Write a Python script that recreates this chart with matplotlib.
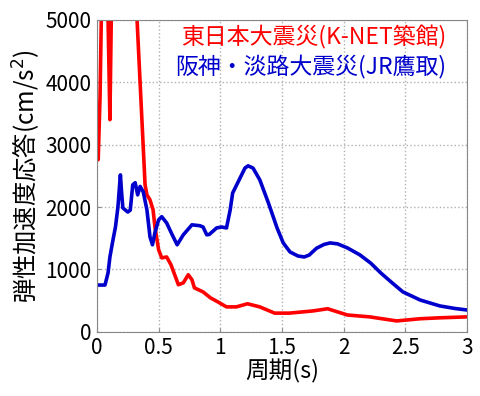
import numpy as np
import matplotlib.pyplot as plt

plt.rcParams['font.family'] = ['Noto Sans CJK JP', 'DejaVu Sans']

# 東日本大震災 (K-NET築館)
period_red = [0.0, 0.01, 0.025, 0.04, 0.07, 0.09, 0.105, 0.12, 0.30,
              0.325, 0.39, 0.405, 0.43, 0.455, 0.47, 0.50, 0.525, 0.565,
              0.60, 0.63, 0.66, 0.70, 0.74, 0.77, 0.79, 0.86, 0.92, 0.98, 1.05, 1.13,
              1.22, 1.32, 1.44, 1.56, 1.75, 1.87, 2.03, 2.21, 2.43, 2.62, 2.78, 3.0]
accel_red = [2750, 2760, 3770, 5600, 5600, 5000, 3400, 5600, 5600,
             5000, 2355, 2195, 2115, 1955, 1680, 1315, 1185, 1200,
             1075, 915, 755, 785, 915, 835, 705, 640, 545, 480, 400, 400,
             450, 400, 300, 300, 335, 370, 270, 240, 175, 210, 225, 240]

# 阪神・淡路大震災 (JR鷹取)
period_blue = [0.0, 0.065, 0.09, 0.105, 0.13, 0.15, 0.17, 0.19, 0.20, 0.21, 0.25,
               0.27, 0.29, 0.31, 0.33, 0.35, 0.375, 0.405, 0.43, 0.45, 0.47, 0.50,
               0.525, 0.565, 0.61, 0.65, 0.70, 0.77, 0.835, 0.86, 0.89, 0.91, 0.97,
               1.01, 1.05, 1.08, 1.10, 1.16, 1.20, 1.225, 1.265, 1.32, 1.39, 1.46,
               1.51, 1.565, 1.63, 1.68, 1.72, 1.78, 1.84, 1.89, 1.95, 2.03,
               2.13, 2.22, 2.30, 2.39, 2.48, 2.62, 2.78, 2.9, 3.0]
accel_blue = [750, 750, 945, 1200, 1475, 1680, 2000, 2515, 2225, 1985, 1920,
              1950, 2355, 2390, 2195, 2330, 2245, 1955, 1520, 1395, 1590, 1795,
              1845, 1745, 1555, 1395, 1555, 1715, 1700, 1680, 1555, 1560, 1665,
              1680, 1665, 1955, 2225, 2465, 2625, 2660, 2625, 2435, 2065, 1665,
              1425, 1280, 1215, 1200, 1230, 1340, 1400, 1425, 1410, 1345,
              1235, 1100, 945, 790, 640, 510, 415, 375, 350]

fig = plt.figure(figsize=(4.8, 3.96), dpi=100)
ax = fig.add_axes([0.202, 0.162, 0.771, 0.788])

ax.plot(period_red, accel_red, color='#ff0000', lw=2.6)
ax.plot(period_blue, accel_blue, color='#0000cc', lw=2.6)

ax.set_xlim(0, 3)
ax.set_ylim(0, 5000)
ax.set_xticks([0, 0.5, 1, 1.5, 2, 2.5, 3])
ax.set_xticklabels(['0', '0.5', '1', '1.5', '2', '2.5', '3'])
ax.set_yticks([0, 1000, 2000, 3000, 4000, 5000])
ax.grid(True, color='#b0b0b0', linestyle=':', linewidth=1)
ax.tick_params(direction='in', length=3, labelsize=15, color='#888888', pad=4)
for s in ax.spines.values():
    s.set_color('#888888')

ax.set_xlabel('周期(s)', fontsize=17, labelpad=0)
ax.set_ylabel('弾性加速度応答(cm/s$^2$)', fontsize=17.5, labelpad=2)

ax.text(0.945, 0.945, '東日本大震災(K-NET築館)', transform=ax.transAxes,
        color='#ff0000', fontsize=16.5, ha='right', va='center')
ax.text(0.945, 0.849, '阪神・淡路大震災(JR鷹取)', transform=ax.transAxes,
        color='#0000cc', fontsize=16.5, ha='right', va='center')

fig.savefig('out.png', dpi=100)
